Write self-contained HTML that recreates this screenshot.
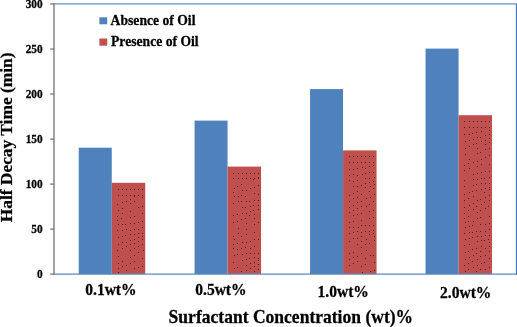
<!DOCTYPE html>
<html><head><meta charset="utf-8"><title>Chart</title>
<style>html,body{margin:0;padding:0;background:#fff}body{width:517px;height:327px;overflow:hidden}
.t{font-family:"Liberation Serif","DejaVu Serif",serif;fill:#000;stroke:#000;stroke-width:0.25px}</style></head><body>
<svg width="517" height="327" viewBox="0 0 517 327" style="display:block">
<rect width="517" height="327" fill="#fff"/>
<rect x="78.75" y="147.7" width="33.0" height="126.4" fill="#4f81bd"/>
<rect x="111.75" y="182.8" width="33.5" height="91.3" fill="#c0504d"/>
<rect x="194.55" y="120.6" width="33.0" height="153.5" fill="#4f81bd"/>
<rect x="227.55" y="166.6" width="33.5" height="107.5" fill="#c0504d"/>
<rect x="310.05" y="89.1" width="33.0" height="185.0" fill="#4f81bd"/>
<rect x="343.05" y="150.4" width="33.5" height="123.7" fill="#c0504d"/>
<rect x="425.55" y="48.6" width="33.0" height="225.5" fill="#4f81bd"/>
<rect x="458.55" y="115.2" width="33.5" height="158.9" fill="#c0504d"/>
<g fill="#2b1414" fill-opacity="0.82"><rect x="118" y="189" width="1" height="1"/><rect x="122" y="189" width="1" height="1"/><rect x="126" y="189" width="1" height="1"/><rect x="130" y="189" width="1" height="1"/><rect x="134" y="189" width="1" height="1"/><rect x="138" y="189" width="1" height="1"/><rect x="142" y="189" width="1" height="1"/><rect x="118" y="195" width="1" height="1"/><rect x="122" y="195" width="1" height="1"/><rect x="126" y="195" width="1" height="1"/><rect x="130" y="195" width="1" height="1"/><rect x="134" y="195" width="1" height="1"/><rect x="138" y="195" width="1" height="1"/><rect x="142" y="195" width="1" height="1"/><rect x="117" y="204" width="1" height="1"/><rect x="122" y="202" width="1" height="1"/><rect x="126" y="201" width="1" height="1"/><rect x="130" y="199" width="1" height="1"/><rect x="134" y="196" width="1" height="1"/><rect x="118" y="210" width="1" height="1"/><rect x="122" y="208" width="1" height="1"/><rect x="130" y="203" width="1" height="1"/><rect x="134" y="201" width="1" height="1"/><rect x="142" y="197" width="1" height="1"/><rect x="117" y="216" width="1" height="1"/><rect x="122" y="213" width="1" height="1"/><rect x="130" y="211" width="1" height="1"/><rect x="138" y="207" width="1" height="1"/><rect x="142" y="206" width="1" height="1"/><rect x="117" y="220" width="1" height="1"/><rect x="121" y="218" width="1" height="1"/><rect x="130" y="217" width="1" height="1"/><rect x="134" y="216" width="1" height="1"/><rect x="142" y="213" width="1" height="1"/><rect x="118" y="224" width="1" height="1"/><rect x="122" y="224" width="1" height="1"/><rect x="125" y="224" width="1" height="1"/><rect x="130" y="223" width="1" height="1"/><rect x="134" y="223" width="1" height="1"/><rect x="138" y="222" width="1" height="1"/><rect x="142" y="221" width="1" height="1"/><rect x="117" y="230" width="1" height="1"/><rect x="122" y="230" width="1" height="1"/><rect x="126" y="229" width="1" height="1"/><rect x="130" y="230" width="1" height="1"/><rect x="134" y="229" width="1" height="1"/><rect x="138" y="229" width="1" height="1"/><rect x="142" y="227" width="1" height="1"/><rect x="118" y="237" width="1" height="1"/><rect x="122" y="236" width="1" height="1"/><rect x="125" y="235" width="1" height="1"/><rect x="130" y="234" width="1" height="1"/><rect x="134" y="234" width="1" height="1"/><rect x="138" y="233" width="1" height="1"/><rect x="142" y="233" width="1" height="1"/><rect x="118" y="244" width="1" height="1"/><rect x="122" y="242" width="1" height="1"/><rect x="126" y="242" width="1" height="1"/><rect x="130" y="240" width="1" height="1"/><rect x="134" y="239" width="1" height="1"/><rect x="138" y="237" width="1" height="1"/><rect x="142" y="236" width="1" height="1"/><rect x="117" y="250" width="1" height="1"/><rect x="122" y="248" width="1" height="1"/><rect x="126" y="246" width="1" height="1"/><rect x="130" y="244" width="1" height="1"/><rect x="134" y="243" width="1" height="1"/><rect x="138" y="241" width="1" height="1"/><rect x="142" y="239" width="1" height="1"/><rect x="118" y="256" width="1" height="1"/><rect x="130" y="250" width="1" height="1"/><rect x="134" y="248" width="1" height="1"/><rect x="138" y="246" width="1" height="1"/><rect x="142" y="244" width="1" height="1"/><rect x="118" y="263" width="1" height="1"/><rect x="122" y="261" width="1" height="1"/><rect x="130" y="257" width="1" height="1"/><rect x="134" y="255" width="1" height="1"/><rect x="138" y="252" width="1" height="1"/><rect x="143" y="250" width="1" height="1"/><rect x="118" y="268" width="1" height="1"/><rect x="122" y="266" width="1" height="1"/><rect x="126" y="265" width="1" height="1"/><rect x="130" y="263" width="1" height="1"/><rect x="134" y="261" width="1" height="1"/><rect x="142" y="258" width="1" height="1"/><rect x="118" y="272" width="1" height="1"/><rect x="126" y="270" width="1" height="1"/><rect x="134" y="268" width="1" height="1"/><rect x="138" y="267" width="1" height="1"/><rect x="142" y="266" width="1" height="1"/><rect x="233" y="173" width="1" height="1"/><rect x="238" y="173" width="1" height="1"/><rect x="242" y="173" width="1" height="1"/><rect x="246" y="173" width="1" height="1"/><rect x="250" y="173" width="1" height="1"/><rect x="254" y="173" width="1" height="1"/><rect x="258" y="173" width="1" height="1"/><rect x="233" y="178" width="1" height="1"/><rect x="238" y="178" width="1" height="1"/><rect x="242" y="178" width="1" height="1"/><rect x="246" y="178" width="1" height="1"/><rect x="250" y="178" width="1" height="1"/><rect x="254" y="178" width="1" height="1"/><rect x="258" y="178" width="1" height="1"/><rect x="234" y="188" width="1" height="1"/><rect x="237" y="186" width="1" height="1"/><rect x="241" y="184" width="1" height="1"/><rect x="253" y="179" width="1" height="1"/><rect x="258" y="177" width="1" height="1"/><rect x="233" y="192" width="1" height="1"/><rect x="242" y="190" width="1" height="1"/><rect x="246" y="190" width="1" height="1"/><rect x="250" y="188" width="1" height="1"/><rect x="254" y="187" width="1" height="1"/><rect x="258" y="185" width="1" height="1"/><rect x="234" y="196" width="1" height="1"/><rect x="238" y="196" width="1" height="1"/><rect x="241" y="195" width="1" height="1"/><rect x="245" y="196" width="1" height="1"/><rect x="254" y="193" width="1" height="1"/><rect x="258" y="194" width="1" height="1"/><rect x="233" y="203" width="1" height="1"/><rect x="238" y="201" width="1" height="1"/><rect x="241" y="201" width="1" height="1"/><rect x="246" y="201" width="1" height="1"/><rect x="249" y="201" width="1" height="1"/><rect x="254" y="200" width="1" height="1"/><rect x="258" y="200" width="1" height="1"/><rect x="242" y="207" width="1" height="1"/><rect x="245" y="207" width="1" height="1"/><rect x="250" y="206" width="1" height="1"/><rect x="253" y="205" width="1" height="1"/><rect x="258" y="205" width="1" height="1"/><rect x="233" y="215" width="1" height="1"/><rect x="237" y="214" width="1" height="1"/><rect x="242" y="213" width="1" height="1"/><rect x="246" y="213" width="1" height="1"/><rect x="250" y="211" width="1" height="1"/><rect x="253" y="210" width="1" height="1"/><rect x="258" y="209" width="1" height="1"/><rect x="233" y="222" width="1" height="1"/><rect x="237" y="221" width="1" height="1"/><rect x="241" y="219" width="1" height="1"/><rect x="245" y="218" width="1" height="1"/><rect x="249" y="215" width="1" height="1"/><rect x="254" y="214" width="1" height="1"/><rect x="238" y="228" width="1" height="1"/><rect x="246" y="223" width="1" height="1"/><rect x="254" y="218" width="1" height="1"/><rect x="233" y="236" width="1" height="1"/><rect x="238" y="233" width="1" height="1"/><rect x="246" y="229" width="1" height="1"/><rect x="254" y="224" width="1" height="1"/><rect x="258" y="222" width="1" height="1"/><rect x="234" y="239" width="1" height="1"/><rect x="241" y="236" width="1" height="1"/><rect x="246" y="234" width="1" height="1"/><rect x="254" y="232" width="1" height="1"/><rect x="233" y="244" width="1" height="1"/><rect x="237" y="243" width="1" height="1"/><rect x="242" y="242" width="1" height="1"/><rect x="246" y="242" width="1" height="1"/><rect x="250" y="241" width="1" height="1"/><rect x="254" y="239" width="1" height="1"/><rect x="258" y="239" width="1" height="1"/><rect x="233" y="248" width="1" height="1"/><rect x="237" y="249" width="1" height="1"/><rect x="241" y="248" width="1" height="1"/><rect x="245" y="247" width="1" height="1"/><rect x="250" y="248" width="1" height="1"/><rect x="254" y="246" width="1" height="1"/><rect x="234" y="255" width="1" height="1"/><rect x="237" y="254" width="1" height="1"/><rect x="242" y="254" width="1" height="1"/><rect x="246" y="253" width="1" height="1"/><rect x="250" y="253" width="1" height="1"/><rect x="254" y="253" width="1" height="1"/><rect x="258" y="253" width="1" height="1"/><rect x="233" y="262" width="1" height="1"/><rect x="242" y="260" width="1" height="1"/><rect x="246" y="259" width="1" height="1"/><rect x="249" y="258" width="1" height="1"/><rect x="254" y="257" width="1" height="1"/><rect x="258" y="258" width="1" height="1"/><rect x="234" y="268" width="1" height="1"/><rect x="237" y="267" width="1" height="1"/><rect x="246" y="265" width="1" height="1"/><rect x="250" y="263" width="1" height="1"/><rect x="254" y="262" width="1" height="1"/><rect x="258" y="260" width="1" height="1"/><rect x="241" y="271" width="1" height="1"/><rect x="246" y="270" width="1" height="1"/><rect x="250" y="268" width="1" height="1"/><rect x="254" y="266" width="1" height="1"/><rect x="258" y="264" width="1" height="1"/><rect x="254" y="271" width="1" height="1"/><rect x="258" y="269" width="1" height="1"/><rect x="349" y="156" width="1" height="1"/><rect x="353" y="156" width="1" height="1"/><rect x="357" y="156" width="1" height="1"/><rect x="361" y="156" width="1" height="1"/><rect x="365" y="156" width="1" height="1"/><rect x="369" y="156" width="1" height="1"/><rect x="373" y="156" width="1" height="1"/><rect x="349" y="162" width="1" height="1"/><rect x="353" y="162" width="1" height="1"/><rect x="357" y="162" width="1" height="1"/><rect x="361" y="162" width="1" height="1"/><rect x="365" y="162" width="1" height="1"/><rect x="369" y="162" width="1" height="1"/><rect x="373" y="162" width="1" height="1"/><rect x="349" y="169" width="1" height="1"/><rect x="353" y="169" width="1" height="1"/><rect x="357" y="168" width="1" height="1"/><rect x="362" y="167" width="1" height="1"/><rect x="365" y="168" width="1" height="1"/><rect x="369" y="166" width="1" height="1"/><rect x="373" y="165" width="1" height="1"/><rect x="349" y="175" width="1" height="1"/><rect x="353" y="174" width="1" height="1"/><rect x="357" y="175" width="1" height="1"/><rect x="362" y="174" width="1" height="1"/><rect x="365" y="173" width="1" height="1"/><rect x="369" y="172" width="1" height="1"/><rect x="373" y="172" width="1" height="1"/><rect x="349" y="180" width="1" height="1"/><rect x="353" y="181" width="1" height="1"/><rect x="357" y="180" width="1" height="1"/><rect x="365" y="178" width="1" height="1"/><rect x="369" y="178" width="1" height="1"/><rect x="374" y="177" width="1" height="1"/><rect x="353" y="186" width="1" height="1"/><rect x="357" y="186" width="1" height="1"/><rect x="361" y="185" width="1" height="1"/><rect x="365" y="183" width="1" height="1"/><rect x="369" y="182" width="1" height="1"/><rect x="373" y="181" width="1" height="1"/><rect x="349" y="195" width="1" height="1"/><rect x="353" y="193" width="1" height="1"/><rect x="357" y="191" width="1" height="1"/><rect x="365" y="187" width="1" height="1"/><rect x="370" y="186" width="1" height="1"/><rect x="374" y="184" width="1" height="1"/><rect x="349" y="201" width="1" height="1"/><rect x="353" y="198" width="1" height="1"/><rect x="357" y="197" width="1" height="1"/><rect x="361" y="194" width="1" height="1"/><rect x="369" y="191" width="1" height="1"/><rect x="373" y="188" width="1" height="1"/><rect x="349" y="207" width="1" height="1"/><rect x="353" y="205" width="1" height="1"/><rect x="357" y="202" width="1" height="1"/><rect x="361" y="201" width="1" height="1"/><rect x="366" y="198" width="1" height="1"/><rect x="370" y="197" width="1" height="1"/><rect x="374" y="194" width="1" height="1"/><rect x="349" y="212" width="1" height="1"/><rect x="353" y="210" width="1" height="1"/><rect x="357" y="208" width="1" height="1"/><rect x="361" y="206" width="1" height="1"/><rect x="366" y="206" width="1" height="1"/><rect x="369" y="204" width="1" height="1"/><rect x="373" y="201" width="1" height="1"/><rect x="353" y="215" width="1" height="1"/><rect x="357" y="214" width="1" height="1"/><rect x="361" y="213" width="1" height="1"/><rect x="369" y="211" width="1" height="1"/><rect x="373" y="210" width="1" height="1"/><rect x="349" y="222" width="1" height="1"/><rect x="353" y="221" width="1" height="1"/><rect x="361" y="220" width="1" height="1"/><rect x="369" y="218" width="1" height="1"/><rect x="373" y="217" width="1" height="1"/><rect x="349" y="227" width="1" height="1"/><rect x="353" y="227" width="1" height="1"/><rect x="358" y="227" width="1" height="1"/><rect x="361" y="225" width="1" height="1"/><rect x="365" y="225" width="1" height="1"/><rect x="369" y="225" width="1" height="1"/><rect x="373" y="225" width="1" height="1"/><rect x="349" y="233" width="1" height="1"/><rect x="353" y="232" width="1" height="1"/><rect x="357" y="231" width="1" height="1"/><rect x="361" y="232" width="1" height="1"/><rect x="365" y="231" width="1" height="1"/><rect x="369" y="231" width="1" height="1"/><rect x="373" y="230" width="1" height="1"/><rect x="349" y="241" width="1" height="1"/><rect x="353" y="238" width="1" height="1"/><rect x="357" y="238" width="1" height="1"/><rect x="361" y="236" width="1" height="1"/><rect x="369" y="234" width="1" height="1"/><rect x="373" y="233" width="1" height="1"/><rect x="357" y="244" width="1" height="1"/><rect x="361" y="241" width="1" height="1"/><rect x="366" y="239" width="1" height="1"/><rect x="374" y="236" width="1" height="1"/><rect x="349" y="253" width="1" height="1"/><rect x="353" y="252" width="1" height="1"/><rect x="361" y="247" width="1" height="1"/><rect x="365" y="244" width="1" height="1"/><rect x="369" y="243" width="1" height="1"/><rect x="374" y="240" width="1" height="1"/><rect x="349" y="259" width="1" height="1"/><rect x="353" y="257" width="1" height="1"/><rect x="357" y="256" width="1" height="1"/><rect x="361" y="253" width="1" height="1"/><rect x="366" y="250" width="1" height="1"/><rect x="349" y="265" width="1" height="1"/><rect x="353" y="263" width="1" height="1"/><rect x="357" y="261" width="1" height="1"/><rect x="365" y="258" width="1" height="1"/><rect x="370" y="255" width="1" height="1"/><rect x="373" y="255" width="1" height="1"/><rect x="361" y="266" width="1" height="1"/><rect x="365" y="264" width="1" height="1"/><rect x="374" y="262" width="1" height="1"/><rect x="362" y="272" width="1" height="1"/><rect x="370" y="271" width="1" height="1"/><rect x="374" y="270" width="1" height="1"/><rect x="464" y="121" width="1" height="1"/><rect x="469" y="121" width="1" height="1"/><rect x="473" y="121" width="1" height="1"/><rect x="477" y="121" width="1" height="1"/><rect x="481" y="121" width="1" height="1"/><rect x="485" y="121" width="1" height="1"/><rect x="489" y="121" width="1" height="1"/><rect x="464" y="127" width="1" height="1"/><rect x="469" y="127" width="1" height="1"/><rect x="473" y="127" width="1" height="1"/><rect x="477" y="127" width="1" height="1"/><rect x="481" y="127" width="1" height="1"/><rect x="485" y="127" width="1" height="1"/><rect x="489" y="127" width="1" height="1"/><rect x="464" y="134" width="1" height="1"/><rect x="469" y="134" width="1" height="1"/><rect x="472" y="133" width="1" height="1"/><rect x="476" y="132" width="1" height="1"/><rect x="481" y="131" width="1" height="1"/><rect x="489" y="130" width="1" height="1"/><rect x="465" y="141" width="1" height="1"/><rect x="469" y="140" width="1" height="1"/><rect x="473" y="139" width="1" height="1"/><rect x="477" y="137" width="1" height="1"/><rect x="480" y="137" width="1" height="1"/><rect x="485" y="135" width="1" height="1"/><rect x="489" y="134" width="1" height="1"/><rect x="465" y="148" width="1" height="1"/><rect x="469" y="146" width="1" height="1"/><rect x="473" y="144" width="1" height="1"/><rect x="476" y="143" width="1" height="1"/><rect x="481" y="141" width="1" height="1"/><rect x="485" y="140" width="1" height="1"/><rect x="489" y="138" width="1" height="1"/><rect x="465" y="154" width="1" height="1"/><rect x="477" y="148" width="1" height="1"/><rect x="485" y="144" width="1" height="1"/><rect x="489" y="142" width="1" height="1"/><rect x="469" y="159" width="1" height="1"/><rect x="477" y="153" width="1" height="1"/><rect x="480" y="152" width="1" height="1"/><rect x="485" y="149" width="1" height="1"/><rect x="489" y="148" width="1" height="1"/><rect x="464" y="165" width="1" height="1"/><rect x="468" y="163" width="1" height="1"/><rect x="473" y="162" width="1" height="1"/><rect x="477" y="161" width="1" height="1"/><rect x="481" y="159" width="1" height="1"/><rect x="485" y="157" width="1" height="1"/><rect x="489" y="155" width="1" height="1"/><rect x="464" y="170" width="1" height="1"/><rect x="469" y="168" width="1" height="1"/><rect x="477" y="166" width="1" height="1"/><rect x="481" y="164" width="1" height="1"/><rect x="489" y="164" width="1" height="1"/><rect x="473" y="174" width="1" height="1"/><rect x="477" y="173" width="1" height="1"/><rect x="481" y="172" width="1" height="1"/><rect x="485" y="171" width="1" height="1"/><rect x="489" y="171" width="1" height="1"/><rect x="464" y="180" width="1" height="1"/><rect x="473" y="179" width="1" height="1"/><rect x="477" y="179" width="1" height="1"/><rect x="481" y="178" width="1" height="1"/><rect x="484" y="178" width="1" height="1"/><rect x="489" y="177" width="1" height="1"/><rect x="464" y="186" width="1" height="1"/><rect x="473" y="185" width="1" height="1"/><rect x="476" y="184" width="1" height="1"/><rect x="481" y="183" width="1" height="1"/><rect x="485" y="183" width="1" height="1"/><rect x="489" y="183" width="1" height="1"/><rect x="464" y="194" width="1" height="1"/><rect x="469" y="192" width="1" height="1"/><rect x="472" y="191" width="1" height="1"/><rect x="476" y="190" width="1" height="1"/><rect x="481" y="189" width="1" height="1"/><rect x="485" y="188" width="1" height="1"/><rect x="489" y="187" width="1" height="1"/><rect x="464" y="200" width="1" height="1"/><rect x="468" y="198" width="1" height="1"/><rect x="473" y="196" width="1" height="1"/><rect x="484" y="192" width="1" height="1"/><rect x="489" y="189" width="1" height="1"/><rect x="464" y="207" width="1" height="1"/><rect x="469" y="205" width="1" height="1"/><rect x="473" y="203" width="1" height="1"/><rect x="477" y="200" width="1" height="1"/><rect x="480" y="199" width="1" height="1"/><rect x="485" y="197" width="1" height="1"/><rect x="489" y="195" width="1" height="1"/><rect x="464" y="213" width="1" height="1"/><rect x="468" y="210" width="1" height="1"/><rect x="473" y="209" width="1" height="1"/><rect x="476" y="206" width="1" height="1"/><rect x="481" y="204" width="1" height="1"/><rect x="484" y="202" width="1" height="1"/><rect x="489" y="200" width="1" height="1"/><rect x="464" y="218" width="1" height="1"/><rect x="468" y="216" width="1" height="1"/><rect x="477" y="212" width="1" height="1"/><rect x="480" y="210" width="1" height="1"/><rect x="485" y="208" width="1" height="1"/><rect x="488" y="206" width="1" height="1"/><rect x="465" y="222" width="1" height="1"/><rect x="468" y="221" width="1" height="1"/><rect x="473" y="221" width="1" height="1"/><rect x="477" y="218" width="1" height="1"/><rect x="480" y="217" width="1" height="1"/><rect x="489" y="216" width="1" height="1"/><rect x="465" y="227" width="1" height="1"/><rect x="469" y="226" width="1" height="1"/><rect x="472" y="225" width="1" height="1"/><rect x="480" y="224" width="1" height="1"/><rect x="485" y="224" width="1" height="1"/><rect x="489" y="223" width="1" height="1"/><rect x="464" y="233" width="1" height="1"/><rect x="469" y="232" width="1" height="1"/><rect x="472" y="232" width="1" height="1"/><rect x="476" y="231" width="1" height="1"/><rect x="480" y="231" width="1" height="1"/><rect x="485" y="231" width="1" height="1"/><rect x="489" y="229" width="1" height="1"/><rect x="465" y="239" width="1" height="1"/><rect x="469" y="238" width="1" height="1"/><rect x="472" y="237" width="1" height="1"/><rect x="477" y="236" width="1" height="1"/><rect x="481" y="236" width="1" height="1"/><rect x="485" y="235" width="1" height="1"/><rect x="489" y="235" width="1" height="1"/><rect x="464" y="245" width="1" height="1"/><rect x="469" y="244" width="1" height="1"/><rect x="477" y="241" width="1" height="1"/><rect x="481" y="240" width="1" height="1"/><rect x="484" y="240" width="1" height="1"/><rect x="488" y="239" width="1" height="1"/><rect x="465" y="252" width="1" height="1"/><rect x="468" y="251" width="1" height="1"/><rect x="472" y="249" width="1" height="1"/><rect x="476" y="248" width="1" height="1"/><rect x="481" y="246" width="1" height="1"/><rect x="489" y="242" width="1" height="1"/><rect x="465" y="259" width="1" height="1"/><rect x="469" y="257" width="1" height="1"/><rect x="473" y="255" width="1" height="1"/><rect x="476" y="253" width="1" height="1"/><rect x="480" y="251" width="1" height="1"/><rect x="485" y="248" width="1" height="1"/><rect x="489" y="246" width="1" height="1"/><rect x="464" y="265" width="1" height="1"/><rect x="468" y="263" width="1" height="1"/><rect x="472" y="261" width="1" height="1"/><rect x="477" y="259" width="1" height="1"/><rect x="480" y="256" width="1" height="1"/><rect x="485" y="255" width="1" height="1"/><rect x="489" y="251" width="1" height="1"/><rect x="465" y="271" width="1" height="1"/><rect x="468" y="269" width="1" height="1"/><rect x="473" y="267" width="1" height="1"/><rect x="477" y="265" width="1" height="1"/><rect x="481" y="263" width="1" height="1"/><rect x="484" y="262" width="1" height="1"/><rect x="489" y="258" width="1" height="1"/><rect x="476" y="271" width="1" height="1"/><rect x="480" y="269" width="1" height="1"/><rect x="485" y="269" width="1" height="1"/><rect x="489" y="267" width="1" height="1"/></g>
<path d="M54.0 3.95H516" fill="none" stroke="#8db0dd" stroke-width="1.7"/>
<path d="M516.45 3.6V274.8" fill="none" stroke="#4279c0" stroke-width="1.2"/>
<path d="M54.0 274.1H516.8" fill="none" stroke="#5b88c4" stroke-width="1.4"/>
<path d="M54.0 3.2V274.6" fill="none" stroke="#727272" stroke-width="1.3"/>
<path d="M50.2 274.1H54.0" stroke="#6c6c6c" stroke-width="1.2"/>
<text transform="translate(42.6,278.0) scale(1,1.06)" text-anchor="end" font-size="11.3" font-weight="bold" class="t">0</text>
<path d="M50.2 229.1H54.0" stroke="#6c6c6c" stroke-width="1.2"/>
<text transform="translate(42.6,233.0) scale(1,1.06)" text-anchor="end" font-size="11.3" font-weight="bold" class="t">50</text>
<path d="M50.2 184.1H54.0" stroke="#6c6c6c" stroke-width="1.2"/>
<text transform="translate(42.6,188.0) scale(1,1.06)" text-anchor="end" font-size="11.3" font-weight="bold" class="t">100</text>
<path d="M50.2 139.1H54.0" stroke="#6c6c6c" stroke-width="1.2"/>
<text transform="translate(42.6,143.0) scale(1,1.06)" text-anchor="end" font-size="11.3" font-weight="bold" class="t">150</text>
<path d="M50.2 94.0H54.0" stroke="#6c6c6c" stroke-width="1.2"/>
<text transform="translate(42.6,97.9) scale(1,1.06)" text-anchor="end" font-size="11.3" font-weight="bold" class="t">200</text>
<path d="M50.2 49.0H54.0" stroke="#6c6c6c" stroke-width="1.2"/>
<text transform="translate(42.6,52.9) scale(1,1.06)" text-anchor="end" font-size="11.3" font-weight="bold" class="t">250</text>
<path d="M50.2 4.0H54.0" stroke="#6c6c6c" stroke-width="1.2"/>
<text transform="translate(42.6,7.9) scale(1,1.06)" text-anchor="end" font-size="11.3" font-weight="bold" class="t">300</text>
<text transform="translate(110.9,295.1) scale(1,1.03)" text-anchor="middle" font-size="15.55" font-weight="bold" class="t">0.1wt%</text>
<text transform="translate(220.9,295.1) scale(1,1.03)" text-anchor="middle" font-size="15.55" font-weight="bold" class="t">0.5wt%</text>
<text transform="translate(343.2,296.5) scale(1,1.03)" text-anchor="middle" font-size="15.55" font-weight="bold" class="t">1.0wt%</text>
<text transform="translate(465.7,297.5) scale(1,1.03)" text-anchor="middle" font-size="15.55" font-weight="bold" class="t">2.0wt%</text>
<text transform="translate(168.6,323.3) scale(1,1.045)" font-size="17.55" font-weight="bold" class="t">Surfactant Concentration (wt)%</text>
<text transform="translate(12.4,137.4) rotate(-90) scale(1,0.93)" text-anchor="middle" font-size="17.4" font-weight="bold" class="t">Half Decay Time (min)</text>
<rect x="99.4" y="17.3" width="7.8" height="7" fill="#4f81bd"/>
<text transform="translate(110.6,24.9) scale(1,1.03)" font-size="13.65" font-weight="bold" class="t">Absence of Oil</text>
<rect x="99.4" y="38.5" width="7.8" height="7.2" fill="#c0504d"/>
<text transform="translate(111,46.2) scale(1,1.03)" font-size="13.65" font-weight="bold" class="t">Presence of Oil</text>
</svg>
</body></html>
